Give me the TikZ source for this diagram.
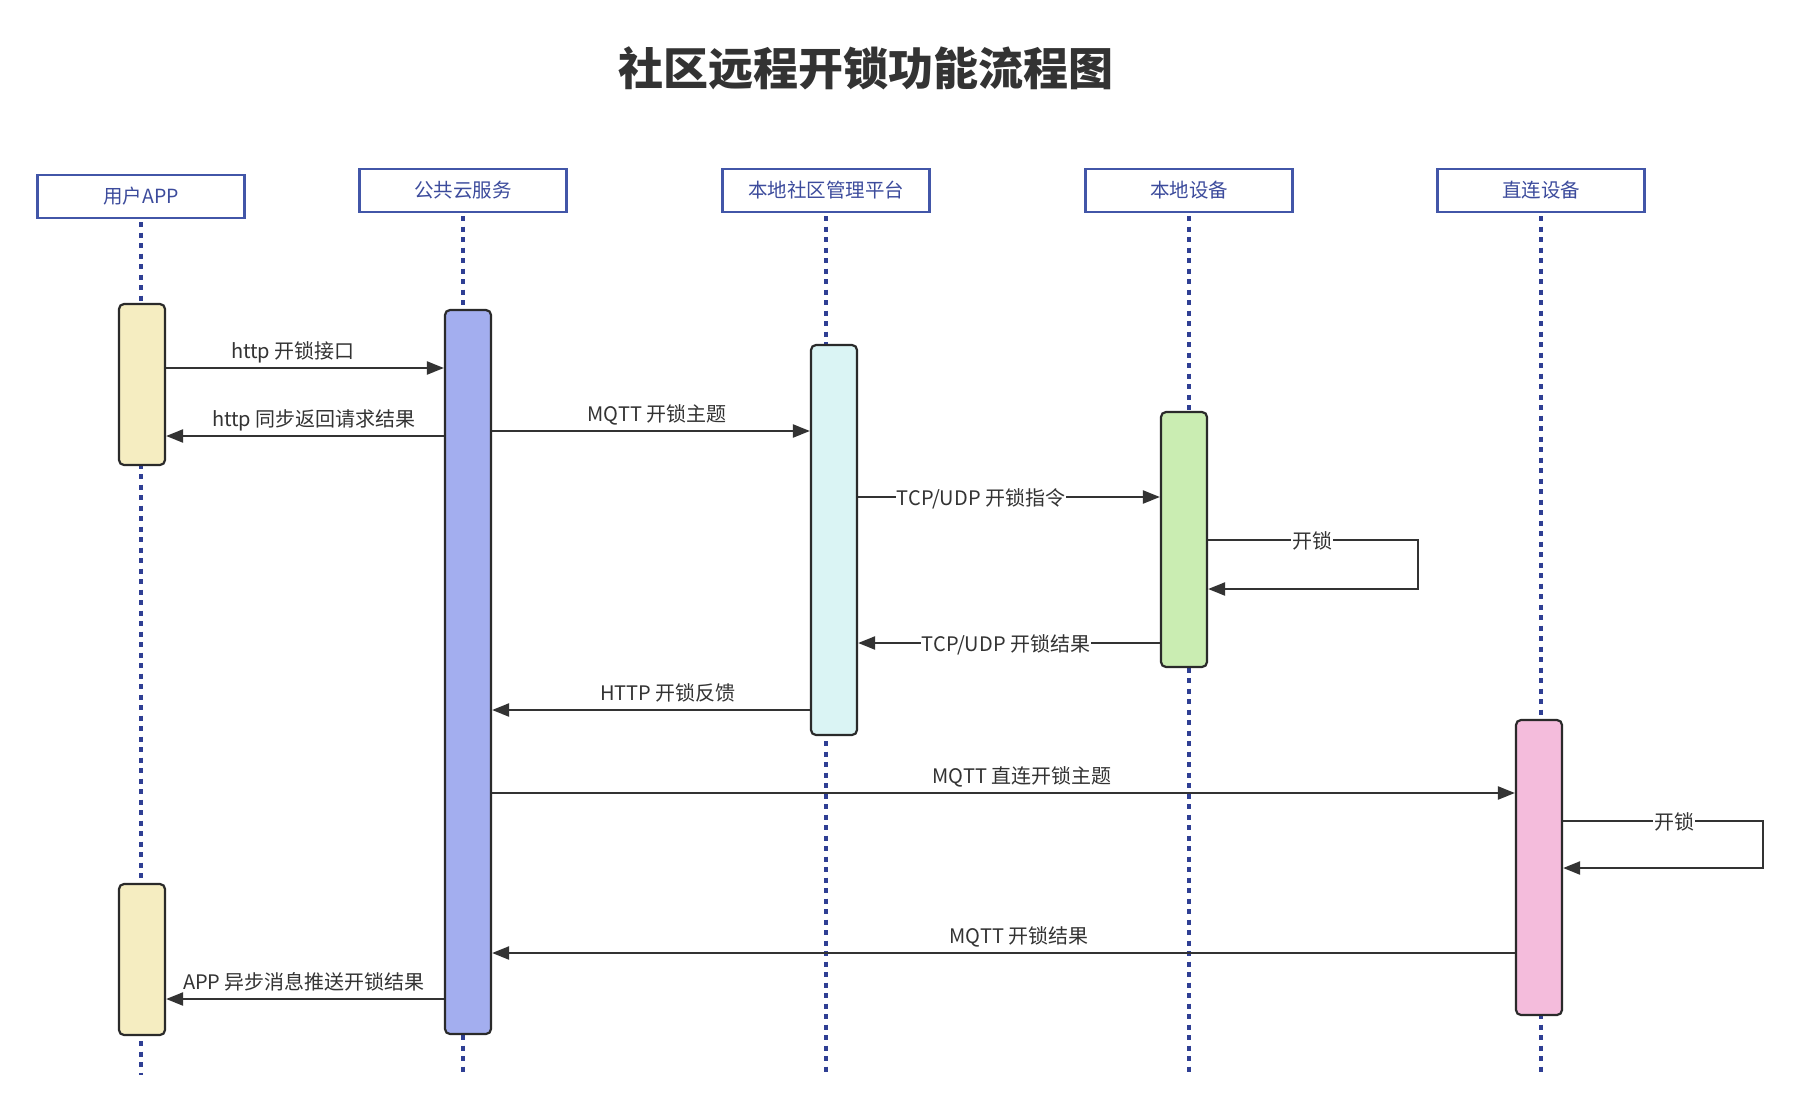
\documentclass[tikz,border=0pt]{standalone}
\usepackage{fontspec}
\setmainfont{Noto Sans CJK SC}
\usetikzlibrary{arrows.meta}

\definecolor{hdrblue}{HTML}{4256A8}
\definecolor{hdrtext}{HTML}{3C4B9C}
\definecolor{lifeblue}{HTML}{2F3F94}
\definecolor{inkgray}{HTML}{333333}
\definecolor{boxedge}{HTML}{2A2A2A}
\definecolor{appfill}{HTML}{F5EDC1}
\definecolor{cloudfill}{HTML}{A3AEEF}
\definecolor{platfill}{HTML}{DAF4F4}
\definecolor{devfill}{HTML}{CAEDB2}
\definecolor{directfill}{HTML}{F4BCDC}

\tikzset{
  hdr/.style={draw=hdrblue, line width=2.2pt, fill=white, minimum width=207pt,
    minimum height=43pt, inner sep=0pt, text=hdrtext, font=\fontsize{19.5}{22}\selectfont},
  lifeline/.style={lifeblue, line width=3.2pt, dash pattern=on 5pt off 5.5pt},
  act/.style={draw=boxedge, line width=2.2pt, rounded corners=5pt, minimum width=46pt,
    inner sep=0pt},
  msg/.style={inkgray, line width=2.2pt, -{Triangle[length=17pt,width=13pt]}},
  lbl/.style={text=inkgray, font=\fontsize{20}{23}\selectfont, inner sep=0pt, anchor=base},
  lblw/.style={lbl, fill=white, inner xsep=1pt, inner ysep=1pt}
}

\begin{document}
\begin{tikzpicture}[x=1pt,y=-1pt]
\useasboundingbox (0,0) rectangle (1801,1113);
\fill[white] (0,0) rectangle (1801,1113);

% title
\node[text=inkgray, font=\fontsize{45}{52}\selectfont\bfseries, anchor=base, inner sep=0pt]
  (title) at (866,86) {社区远程开锁功能流程图};

% participants
\node[hdr] (hApp)    at (141,196.5) {用户APP};
\node[hdr] (hCloud)  at (463,190.5) {公共云服务};
\node[hdr] (hPlat)   at (826,190.5) {本地社区管理平台};
\node[hdr] (hDev)    at (1189,190.5) {本地设备};
\node[hdr] (hDirect) at (1541,190.5) {直连设备};

% lifelines
\coordinate (bottom) at (0,1075);
\foreach \p in {hApp,hCloud,hPlat,hDev,hDirect}
  \draw[lifeline] (\p.south) ++(0,3) -- (\p.south |- bottom);

% activation bars
\node[act, fill=appfill,    minimum height=161pt] (app1)   at (142,384.5) {};
\node[act, fill=cloudfill,  minimum height=724pt] (cloud)  at (468,672) {};
\node[act, fill=platfill,   minimum height=390pt] (plat)   at (834,540) {};
\node[act, fill=devfill,    minimum height=255pt] (dev)    at (1184,539.5) {};
\node[act, fill=directfill, minimum height=295pt] (direct) at (1539,867.5) {};
\node[act, fill=appfill,    minimum height=151pt] (app2)   at (142,959.5) {};

% message rows
\coordinate (r1) at (0,368);
\coordinate (r2) at (0,436);
\coordinate (r3) at (0,431);
\coordinate (r4) at (0,497);
\coordinate (r5a) at (0,540);
\coordinate (r5b) at (0,589);
\coordinate (r6) at (0,643);
\coordinate (r7) at (0,710);
\coordinate (r8) at (0,793);
\coordinate (r9a) at (0,821);
\coordinate (r9b) at (0,868);
\coordinate (r10) at (0,953);
\coordinate (r11) at (0,999);
\coordinate (loop1) at (1418,0);
\coordinate (loop2) at (1763,0);

\draw[msg] (app1.east |- r1) -- (cloud.west |- r1);
\node[lbl] (l1) at (293,358) {http 开锁接口};

\draw[msg] (cloud.west |- r2) -- (app1.east |- r2);
\node[lbl] (l2) at (314,426) {http 同步返回请求结果};

\draw[msg] (cloud.east |- r3) -- (plat.west |- r3);
\node[lbl] (l3) at (657,421) {MQTT 开锁主题};

\draw[msg] (plat.east |- r4) -- (dev.west |- r4);
\node[lblw] (l4) at (981,505) {TCP/UDP 开锁指令};

\draw[msg] (dev.east |- r5a) -- (loop1 |- r5a) -- (loop1 |- r5b) -- (dev.east |- r5b);
\node[lblw] (l5) at (1312,548) {开锁};

\draw[msg] (dev.west |- r6) -- (plat.east |- r6);
\node[lblw] (l6) at (1006,651) {TCP/UDP 开锁结果};

\draw[msg] (plat.west |- r7) -- (cloud.east |- r7);
\node[lbl] (l7) at (668,700) {HTTP 开锁反馈};

\draw[msg] (cloud.east |- r8) -- (direct.west |- r8);
\node[lbl] (l8) at (1022,783) {MQTT 直连开锁主题};

\draw[msg] (direct.east |- r9a) -- (loop2 |- r9a) -- (loop2 |- r9b) -- (direct.east |- r9b);
\node[lblw] (l9) at (1674,829) {开锁};

\draw[msg] (direct.west |- r10) -- (cloud.east |- r10);
\node[lbl] (l10) at (1019,943) {MQTT 开锁结果};

\draw[msg] (cloud.west |- r11) -- (app2.east |- r11);
\node[lbl] (l11) at (304,989) {APP 异步消息推送开锁结果};
\end{tikzpicture}
\end{document}
